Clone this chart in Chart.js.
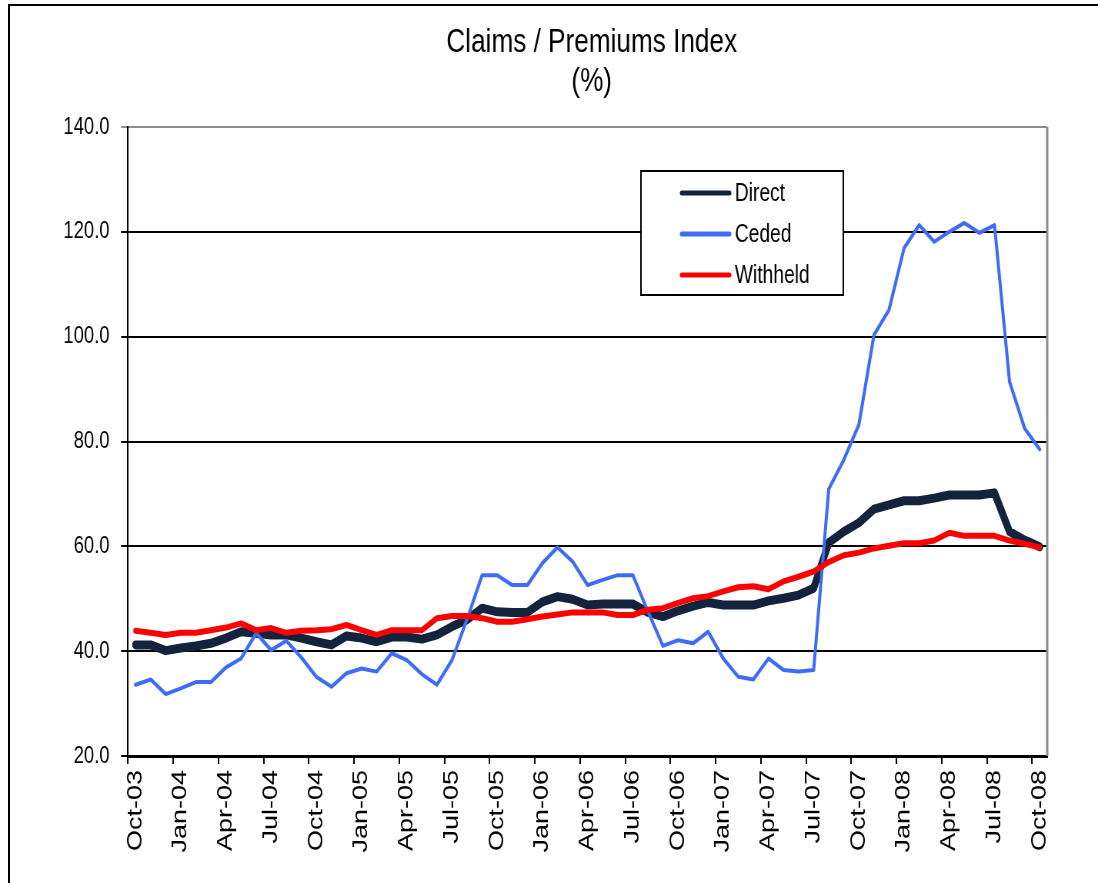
<!DOCTYPE html>
<html>
<head>
<meta charset="utf-8">
<script src="https://cdn.jsdelivr.net/npm/chart.js@4.4.0/dist/chart.umd.min.js"></script>
<style>
  body { margin: 0; background: #fff; overflow: hidden; }
  #frame { position: absolute; left: 8px; top: 4px; width: 1300px; height: 1000px; border: 2px solid #000; }
  #c { position: absolute; left: 0; top: 0; }
</style>
</head>
<body>
<div id="frame"></div>
<!-- drawn wide, then squeezed horizontally like the original picture -->
<canvas id="c" width="1427" height="883" style="width:1098px;height:883px"></canvas>
<script>
'use strict';

const months = [
  'Oct-03', 'Nov-03', 'Dec-03',
  'Jan-04', 'Feb-04', 'Mar-04', 'Apr-04', 'May-04', 'Jun-04', 'Jul-04', 'Aug-04', 'Sep-04', 'Oct-04', 'Nov-04', 'Dec-04',
  'Jan-05', 'Feb-05', 'Mar-05', 'Apr-05', 'May-05', 'Jun-05', 'Jul-05', 'Aug-05', 'Sep-05', 'Oct-05', 'Nov-05', 'Dec-05',
  'Jan-06', 'Feb-06', 'Mar-06', 'Apr-06', 'May-06', 'Jun-06', 'Jul-06', 'Aug-06', 'Sep-06', 'Oct-06', 'Nov-06', 'Dec-06',
  'Jan-07', 'Feb-07', 'Mar-07', 'Apr-07', 'May-07', 'Jun-07', 'Jul-07', 'Aug-07', 'Sep-07', 'Oct-07', 'Nov-07', 'Dec-07',
  'Jan-08', 'Feb-08', 'Mar-08', 'Apr-08', 'May-08', 'Jun-08', 'Jul-08', 'Aug-08', 'Sep-08', 'Oct-08'
];

const direct = [
  41.2, 41.2, 40.1, 40.6, 41.0, 41.5, 42.5, 43.7, 43.4, 43.1, 43.1, 42.5,
  41.8, 41.2, 42.9, 42.5, 41.8, 42.7, 42.7, 42.3, 43.1, 44.7, 46.0, 48.2,
  47.5, 47.4, 47.4, 49.4, 50.4, 49.9, 48.8, 49.0, 49.0, 49.0, 47.4, 46.6,
  47.7, 48.6, 49.3, 48.8, 48.8, 48.8, 49.6, 50.1, 50.7, 52.0, 60.7, 62.8,
  64.5, 67.1, 67.9, 68.7, 68.7, 69.2, 69.8, 69.8, 69.8, 70.2, 62.8, 61.2, 59.9
];

const ceded = [
  33.6, 34.6, 31.8, 32.9, 34.1, 34.1, 36.9, 38.6, 43.4, 40.2, 42.0, 38.8,
  35.1, 33.2, 35.8, 36.7, 36.1, 39.6, 38.3, 35.6, 33.6, 38.3, 46.1, 54.5,
  54.5, 52.6, 52.6, 56.8, 59.8, 57.1, 52.6, 53.6, 54.5, 54.5, 47.6, 41.0,
  42.1, 41.5, 43.7, 38.6, 35.1, 34.6, 38.6, 36.4, 36.1, 36.4, 70.9, 76.5,
  83.2, 100.3, 105.1, 116.9, 121.3, 118.1, 120.0, 121.7, 119.8, 121.3, 91.4, 82.5, 78.5
];

const withheld = [
  43.9, 43.5, 43.1, 43.5, 43.5, 44.0, 44.5, 45.3, 44.0, 44.4, 43.5, 43.9,
  44.0, 44.2, 45.0, 44.0, 43.1, 44.0, 44.0, 44.0, 46.3, 46.7, 46.7, 46.3,
  45.6, 45.6, 46.1, 46.6, 47.0, 47.4, 47.4, 47.4, 46.9, 46.9, 47.9, 48.2,
  49.2, 50.1, 50.5, 51.4, 52.2, 52.4, 51.8, 53.3, 54.2, 55.2, 57.0, 58.3,
  58.8, 59.6, 60.1, 60.6, 60.6, 61.1, 62.6, 62.0, 62.0, 62.0, 61.1, 60.5, 59.8
];

const seriesNames = ['Direct', 'Ceded', 'Withheld'];
const seriesColors = ['#13233d', '#3d6cf7', '#ff0000'];
const titleLines = ['Claims / Premiums Index', '(%)'];

const FONT = '"Liberation Sans", Arial, sans-serif';

// title, legend box and the grey right edge of the plot
const decor = {
  id: 'decor',
  beforeDatasetsDraw(chart) {
    const ctx = chart.ctx, a = chart.chartArea;
    ctx.save();
    ctx.strokeStyle = '#8c8c8c';
    ctx.lineWidth = 3;
    ctx.beginPath();
    ctx.moveTo(a.right, a.top);
    ctx.lineTo(a.right, a.bottom);
    ctx.stroke();
    ctx.restore();
  },
  afterDraw(chart) {
    const ctx = chart.ctx;
    ctx.save();
    ctx.fillStyle = '#000';
    ctx.textAlign = 'center';
    ctx.textBaseline = 'middle';
    ctx.font = '34px ' + FONT;
    ctx.fillText(titleLines[0], 769, 43);
    ctx.fillText(titleLines[1], 769, 82);

    // legend
    ctx.fillStyle = '#fff';
    ctx.fillRect(833, 171, 263, 124);
    ctx.strokeStyle = '#000';
    ctx.lineWidth = 2;
    ctx.strokeRect(833, 171, 263, 124);
    ctx.textAlign = 'left';
    ctx.font = '25px ' + FONT;
    const rows = [193, 234, 275];
    seriesNames.forEach((name, i) => {
      ctx.strokeStyle = seriesColors[i];
      ctx.lineWidth = 5;
      ctx.lineCap = 'round';
      ctx.beginPath();
      ctx.moveTo(886, rows[i]);
      ctx.lineTo(948, rows[i]);
      ctx.stroke();
      ctx.fillStyle = '#000';
      ctx.fillText(name, 955, rows[i] + 1);
    });
    ctx.restore();
  }
};

new Chart(document.getElementById('c'), {
  type: 'line',
  data: {
    labels: months,
    datasets: [
      { label: seriesNames[0], data: direct, borderColor: seriesColors[0], borderWidth: 9, order: 3 },
      { label: seriesNames[1], data: ceded, borderColor: seriesColors[1], borderWidth: 4, order: 2 },
      { label: seriesNames[2], data: withheld, borderColor: seriesColors[2], borderWidth: 6, order: 1 }
    ]
  },
  options: {
    responsive: false,
    animation: false,
    devicePixelRatio: 1,
    layout: { padding: { left: 20, top: 127, right: 66, bottom: 0 } },
    elements: {
      point: { radius: 0 },
      line: { tension: 0, borderJoinStyle: 'round', borderCapStyle: 'round', fill: false }
    },
    plugins: {
      legend: { display: false },
      title: { display: false },
      tooltip: { enabled: false }
    },
    scales: {
      x: {
        offset: true,
        grid: {
          offset: true,
          drawOnChartArea: false,
          tickLength: 8,
          lineWidth: 2,
          color: c => (c.index % 3 === 0 ? '#000' : 'rgba(0,0,0,0)')
        },
        border: { color: '#000', width: 3 },
        ticks: {
          autoSkip: false,
          maxRotation: 90,
          minRotation: 90,
          padding: 6,
          color: '#000',
          font: { family: FONT, size: 27 },
          callback: (v, i) => (i % 3 === 0 ? months[i] : '')
        },
        afterFit: s => { s.height = 127; }
      },
      y: {
        min: 20,
        max: 140,
        ticks: {
          stepSize: 20,
          padding: 15,
          color: '#000',
          font: { family: FONT, size: 24 },
          callback: v => v.toFixed(1)
        },
        grid: {
          tickLength: 9,
          lineWidth: 2,
          color: c => (c.tick && c.tick.value === 140 ? '#8c8c8c' : '#000')
        },
        border: { color: '#000', width: 2 },
        afterFit: s => { s.width = 146.4; }
      }
    }
  },
  plugins: [decor]
});
</script>
</body>
</html>
